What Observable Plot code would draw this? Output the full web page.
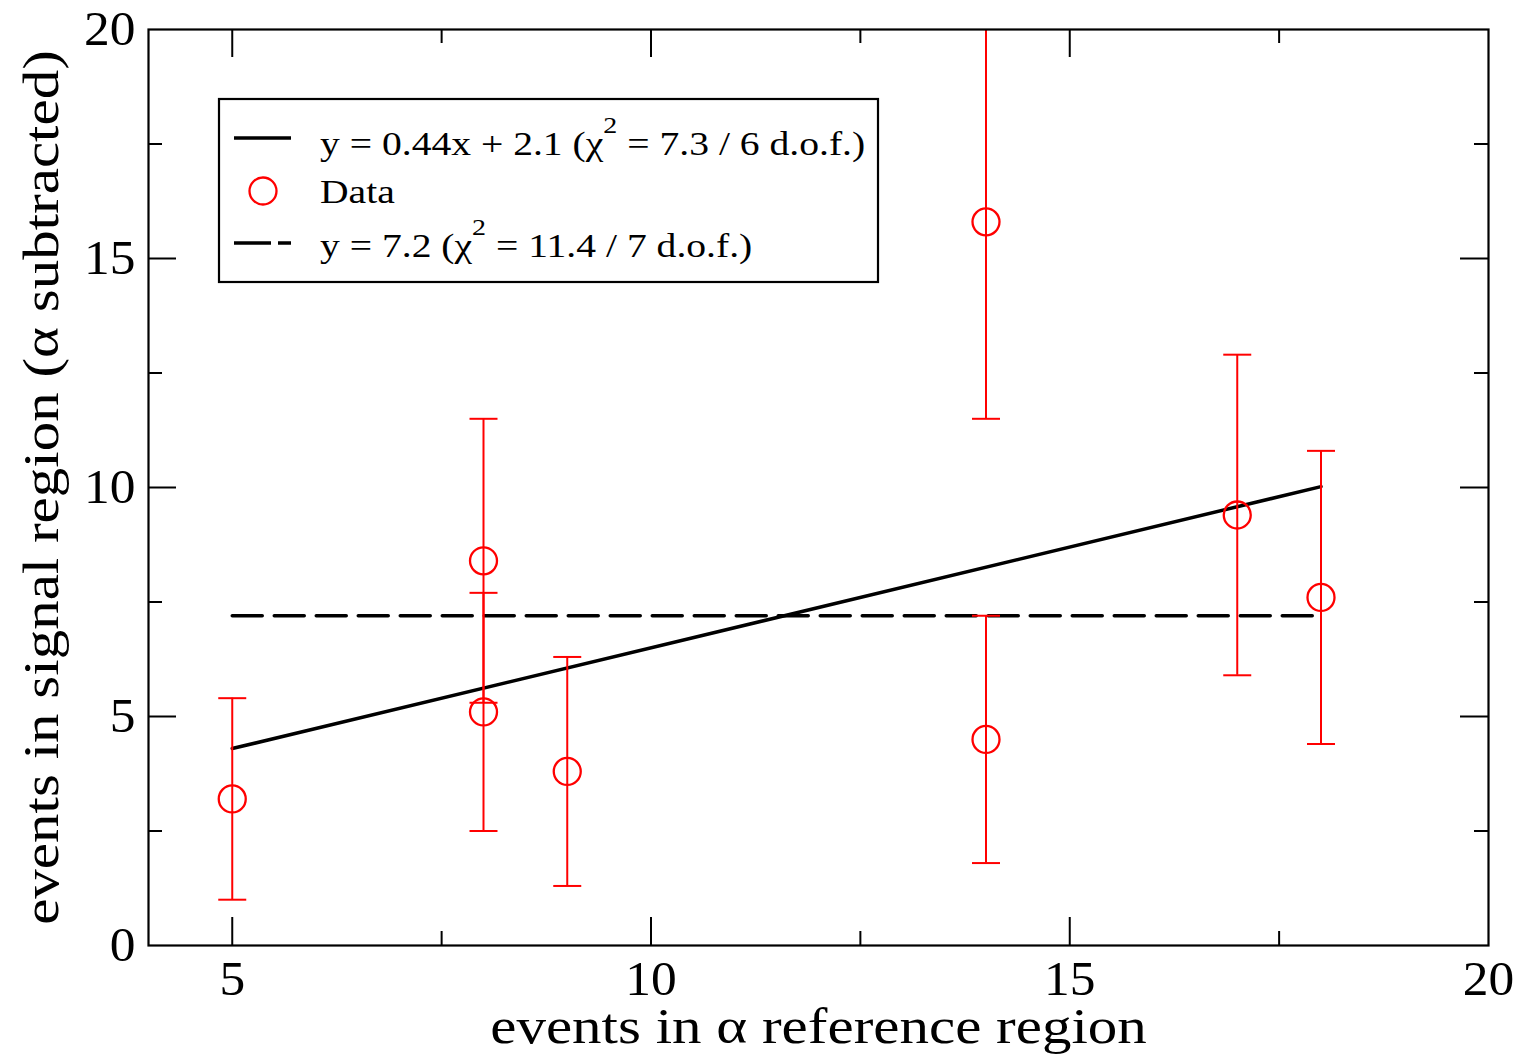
<!DOCTYPE html>
<html><head><meta charset="utf-8">
<script src="https://cdn.jsdelivr.net/npm/d3@7"></script>
<script src="https://cdn.jsdelivr.net/npm/@observablehq/plot@0.6"></script>
<style>body{margin:0;background:#fff;} #chart{width:1521px;height:1063px;}</style>
</head><body><div id="chart"></div>
<script>
// ---- data ----
const xValues = [5, 8, 8, 9, 14, 14, 17, 18];
const yValues = [3.2, 8.4, 5.1, 3.8, 15.8, 4.5, 9.4, 7.6];
const yLow    = [1.0, 5.3, 2.5, 1.3, 11.5, 1.8, 5.9, 4.4];
const yHigh   = [5.4, 11.5, 7.7, 6.3, 20.1, 7.2, 12.9, 10.8];

const fitX = [5, 18];
const fitY = [4.3, 10.02];
const constX = [5, 18];
const constY = [7.2, 7.2];

const xTickLabels = [5, 10, 15, 20];
const yTickLabels = [0, 5, 10, 15, 20];
const xMajorInner = [5, 10, 15];
const xMinorInner = [7.5, 12.5, 17.5];
const yMajorInner = [5, 10, 15];
const yMinorInner = [2.5, 7.5, 12.5, 17.5];

const xLabel = "events in \u03b1 reference region";
const yLabel = "events in signal region (\u03b1 subtracted)";
const legendItems = [
  {kind: "solid", main: "y = 0.44x + 2.1 (\u03c7", sup: "2", rest: " = 7.3 / 6 d.o.f.)"},
  {kind: "dot", main: "Data", sup: "", rest: ""},
  {kind: "dash", main: "y = 7.2 (\u03c7", sup: "2", rest: " = 11.4 / 7 d.o.f.)"}
];

// ---- tables ----
const points = xValues.map((x, i) => ({x, y: yValues[i], lo: yLow[i], hi: yHigh[i]}));
const fitRows = fitX.map((x, i) => ({x, y: fitY[i]}));
const constRows = constX.map((x, i) => ({x, y: constY[i]}));

const RED = "#ff0000";
const W = 1521, H = 1063, ML = 148, MR = 33, MT = 29, MB = 118;
const innerW = W - ML - MR, innerH = H - MT - MB;
const MAJ = 28, MIN = 14;
const FONT = "'Liberation Serif', 'Times New Roman', serif";

const capSymbol = {draw(ctx) { ctx.moveTo(-14, 0); ctx.lineTo(14, 0); }};

const chart = Plot.plot({
  width: W, height: H,
  marginLeft: ML, marginRight: MR, marginTop: MT, marginBottom: MB,
  style: {fontFamily: FONT, background: "#fff", color: "#000"},
  x: {domain: [4, 20]},
  y: {domain: [0, 20]},
  marks: [
    Plot.line(fitRows, {x: "x", y: "y", stroke: "#000", strokeWidth: 3.5}),
    Plot.line(constRows, {x: "x", y: "y", stroke: "#000", strokeWidth: 3.5, strokeDasharray: "30,12"}),
    Plot.ruleX(points, {x: "x", y1: "lo", y2: "hi", stroke: RED, strokeWidth: 2, clip: true}),
    Plot.dot(points, {x: "x", y: "lo", symbol: capSymbol, stroke: RED, strokeWidth: 2, fill: "none", clip: true}),
    Plot.dot(points, {x: "x", y: "hi", symbol: capSymbol, stroke: RED, strokeWidth: 2, fill: "none", clip: true}),
    Plot.dot(points, {x: "x", y: "y", r: 13.5, stroke: RED, strokeWidth: 2.3, fill: "none"}),
    // inward ticks
    Plot.tickX(xMajorInner, {x: d => d, insetTop: innerH - MAJ, stroke: "#000", strokeWidth: 2}),
    Plot.tickX(xMajorInner, {x: d => d, insetBottom: innerH - MAJ, stroke: "#000", strokeWidth: 2}),
    Plot.tickX(xMinorInner, {x: d => d, insetTop: innerH - MIN, stroke: "#000", strokeWidth: 2}),
    Plot.tickX(xMinorInner, {x: d => d, insetBottom: innerH - MIN, stroke: "#000", strokeWidth: 2}),
    Plot.tickY(yMajorInner, {y: d => d, insetRight: innerW - MAJ, stroke: "#000", strokeWidth: 2}),
    Plot.tickY(yMajorInner, {y: d => d, insetLeft: innerW - MAJ, stroke: "#000", strokeWidth: 2}),
    Plot.tickY(yMinorInner, {y: d => d, insetRight: innerW - MIN, stroke: "#000", strokeWidth: 2}),
    Plot.tickY(yMinorInner, {y: d => d, insetLeft: innerW - MIN, stroke: "#000", strokeWidth: 2}),
    Plot.frame({stroke: "#000", strokeWidth: 2.2}),
    Plot.axisX(xTickLabels, {tickSize: 0, tickPadding: 15, fontSize: 49, label: null}),
    Plot.axisY(yTickLabels, {tickSize: 0, tickPadding: 13, fontSize: 49, label: null}),
    Plot.text([xLabel], {frameAnchor: "bottom", dy: 81, fontSize: 50, fill: "#000", textAnchor: "middle", lineAnchor: "middle"}),
    Plot.text([yLabel], {frameAnchor: "left", dx: -107, rotate: -90, fontSize: 50, fill: "#000", textAnchor: "middle", lineAnchor: "middle"})
  ]
});

// ---- legend ----
const svg = d3.select(chart);
const lg = svg.append("g").attr("font-family", FONT).attr("text-anchor", "start");
lg.append("rect").attr("x", 219).attr("y", 99).attr("width", 659).attr("height", 183)
  .attr("fill", "#fff").attr("stroke", "#000").attr("stroke-width", 2.2);
const rowY = [138, 191, 243];
const baseY = [155, 203, 257];
const TX = 320, LEG_STRETCH = 1.165;
legendItems.forEach((it, i) => {
  if (it.kind === "solid") {
    lg.append("line").attr("x1", 234).attr("x2", 291).attr("y1", rowY[i]).attr("y2", rowY[i])
      .attr("stroke", "#000").attr("stroke-width", 3.5);
  } else if (it.kind === "dash") {
    lg.append("line").attr("x1", 234).attr("x2", 291).attr("y1", rowY[i]).attr("y2", rowY[i])
      .attr("stroke", "#000").attr("stroke-width", 3.5).attr("stroke-dasharray", "37,7,13,100");
  } else {
    lg.append("circle").attr("cx", 263).attr("cy", rowY[i]).attr("r", 13.5)
      .attr("fill", "none").attr("stroke", RED).attr("stroke-width", 2.3);
  }
  const t = lg.append("text").attr("x", TX).attr("y", baseY[i]).attr("font-size", 34)
    .attr("text-anchor", "start").attr("fill", "#000").style("white-space", "pre")
    .attr("transform", `translate(${TX},0) scale(${LEG_STRETCH},1) translate(${-TX},0)`);
  t.append("tspan").text(it.main);
  if (it.sup) {
    t.append("tspan").attr("dy", -22).attr("font-size", 24).text(it.sup);
    t.append("tspan").attr("dy", 22).text(it.rest);
  }
});

document.getElementById("chart").appendChild(chart);

// widen glyphs slightly to match the reference's wider serif face
function stretch(sel, k) {
  sel.each(function () {
    const L = this.getComputedTextLength();
    if (L > 0) {
      this.setAttribute("textLength", L * k);
      this.setAttribute("lengthAdjust", "spacingAndGlyphs");
    }
  });
}
stretch(svg.selectAll('g[aria-label="text"] text'), 1.18);
stretch(svg.selectAll('g[aria-label="x-axis tick label"] text, g[aria-label="y-axis tick label"] text'), 1.05);
</script>
</body></html>
